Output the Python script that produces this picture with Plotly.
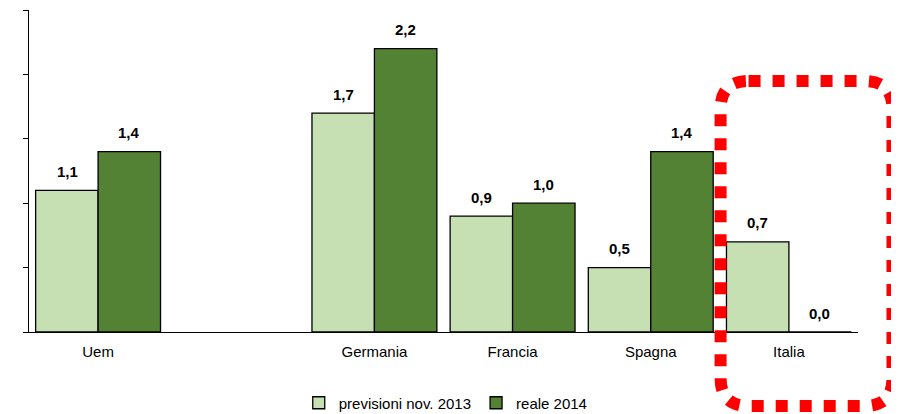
import plotly.graph_objects as go

categories = ["Uem", " ", "Germania", "Francia", "Spagna", "Italia"]
previsioni = [1.1, None, 1.7, 0.9, 0.5, 0.7]
reale = [1.4, None, 2.2, 1.0, 1.4, 0.0]
series_names = ["previsioni nov. 2013", "reale 2014"]
colors = ["#C6E0B4", "#548235"]

OFF = 8  # page body margin
W, H = 899 - OFF, 414 - OFF
ML = 29 - OFF
MT = 10 - OFF
MR = W - (858.5 - OFF)
MB = H - (332 - OFF)
pw = W - ML - MR
ph = H - MT - MB

FONT = "Liberation Sans, Arial, sans-serif"

fig = go.Figure()
for name, vals, col in zip(series_names, [previsioni, reale], colors):
    fig.add_trace(go.Bar(
        x=categories, y=vals, name=name,
        marker=dict(color=col, line=dict(color="black", width=1.3)),
    ))

def fmt(v):
    return f"{v:.1f}".replace(".", ",")

annotations = []
for shift, vals in zip([-31, 31], [previsioni, reale]):
    for c, v in zip(categories, vals):
        if v is None:
            continue
        annotations.append(dict(
            x=c, y=v, xref="x", yref="y", text=fmt(v), showarrow=False,
            xshift=shift, yshift=19, yanchor="middle",
            font=dict(family=FONT, size=15, color="black", weight="bold"),
        ))

# red dotted rounded rectangle (page pixel -> paper)
def px(x):
    return (x - OFF - ML) / pw
def py(y):
    return (H - MB - (y - OFF)) / ph

x0, x1, y0, y1, r = 721, 893, 81, 406, 28
path = (
    f"M {px(x0 + r)} {py(y0)} L {px(x1 - r)} {py(y0)} "
    f"Q {px(x1)} {py(y0)} {px(x1)} {py(y0 + r)} "
    f"L {px(x1)} {py(y1 - r)} "
    f"Q {px(x1)} {py(y1)} {px(x1 - r)} {py(y1)} "
    f"L {px(x0 + r)} {py(y1)} "
    f"Q {px(x0)} {py(y1)} {px(x0)} {py(y1 - r)} "
    f"L {px(x0)} {py(y0 + r)} "
    f"Q {px(x0)} {py(y0)} {px(x0 + r)} {py(y0)} Z"
)

fig.update_layout(
    width=W, height=H,
    margin=dict(l=ML, r=MR, t=MT, b=MB, autoexpand=False),
    paper_bgcolor="white", plot_bgcolor="white",
    barmode="group", bargap=0.096, bargroupgap=0,
    font=dict(family=FONT, size=15, color="black"),
    showlegend=True,
    legend=dict(orientation="h", x=px(446), xanchor="center", y=py(403), yanchor="middle",
                font=dict(size=15), itemwidth=30, traceorder="normal"),
    annotations=annotations,
    shapes=[dict(type="path", path=path, xref="paper", yref="paper",
                 line=dict(color="#FF0000", width=12, dash="dot"), layer="above")],
    xaxis=dict(showline=True, linecolor="black", linewidth=1.3, ticks="", showgrid=False,
               tickfont=dict(size=15), ticklabelstandoff=6),
    yaxis=dict(range=[0, 2.5], showline=True, linecolor="black", linewidth=1.3,
               ticks="outside", ticklen=5, tickcolor="black", tickwidth=1.3,
               dtick=0.5, showticklabels=False, showgrid=False, zeroline=False),
)

fig.write_html("out.html")
